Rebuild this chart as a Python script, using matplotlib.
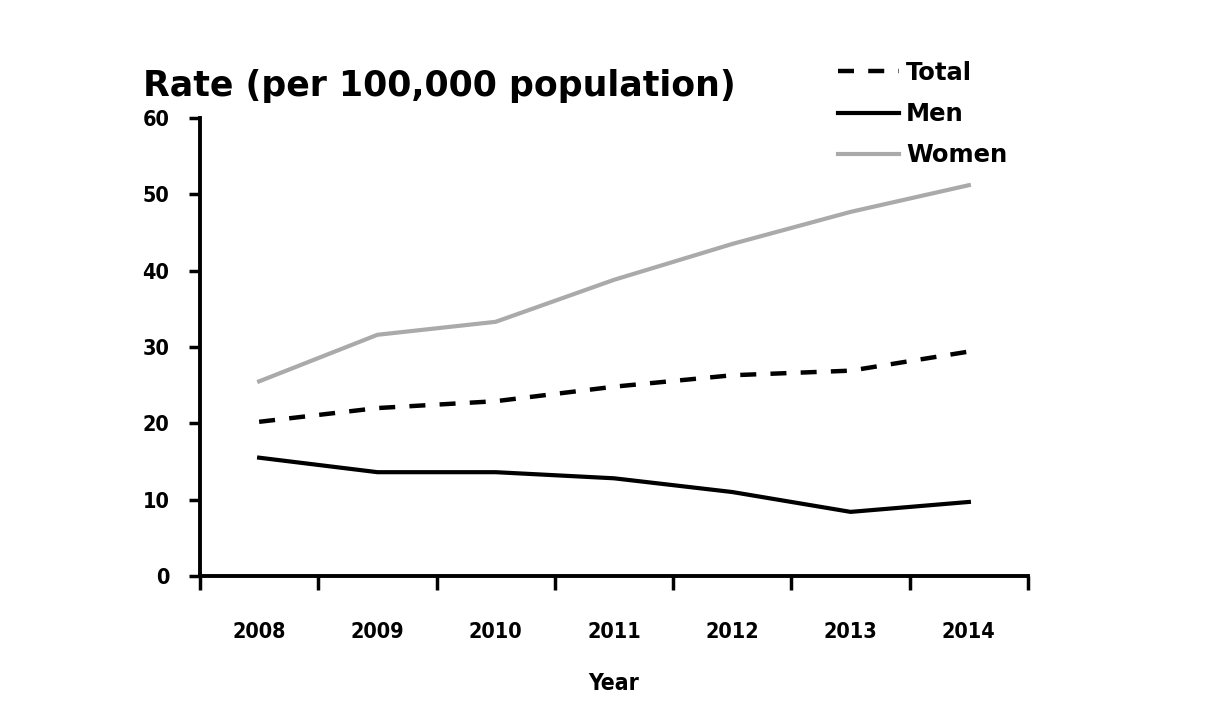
import matplotlib
matplotlib.use("Agg")
import matplotlib.pyplot as plt
import numpy as np

years = ["2008", "2009", "2010", "2011", "2012", "2013", "2014"]
total = [20.2, 22.0, 22.9, 24.8, 26.3, 26.9, 29.4]
men = [15.5, 13.6, 13.6, 12.8, 11.0, 8.4, 9.7]
women = [25.5, 31.6, 33.3, 38.8, 43.5, 47.7, 51.2]
yticks = [0, 10, 20, 30, 40, 50, 60]

plt.rcParams['font.family'] = ['DejaVu Sans']

fig = plt.figure(figsize=(12.27, 7.19), dpi=100)
ax = fig.add_axes([200/1227, 1-576/719, 828/1227, 458/719])

x = np.arange(len(years))
ax.plot(x, total, color='black', lw=3.2, ls=(0, (3.6, 3.2)), label='Total')
ax.plot(x, men, color='black', lw=3.0, label='Men')
ax.plot(x, women, color='#aaaaaa', lw=3.0, label='Women')

ax.set_xlim(-0.5, len(years) - 0.5)
ax.set_ylim(0, 60)
ax.set_yticks(yticks)
ax.set_yticklabels([str(v) for v in yticks], fontsize=15.5, fontweight='bold', fontstretch='condensed')
ax.set_xticks(x)
ax.set_xticklabels(years, fontsize=15.5, fontweight='bold', fontstretch='condensed')
ax.set_xticks(np.arange(-0.5, len(years)), minor=True)
ax.tick_params(axis='x', which='major', length=0, pad=33)
ax.tick_params(axis='x', which='minor', length=10, width=2.5, direction='out')
ax.tick_params(axis='y', length=8, width=2.5, direction='out', pad=14)

for s in ['top', 'right']:
    ax.spines[s].set_visible(False)
for s in ['left', 'bottom']:
    ax.spines[s].set_linewidth(2.8)

ax.set_xlabel('Year', fontsize=16.5, fontweight='bold', fontstretch='condensed', labelpad=22)

fig.text(143/1227, 1-96/719, 'Rate (per 100,000 population)', fontsize=25, fontweight='semibold', ha='left', va='baseline')

leg = ax.legend(loc='upper left', bbox_to_anchor=(838/1227, 1-61/719), bbox_transform=fig.transFigure,
                frameon=False, prop={'weight': 'bold', 'size': 17.5},
                handlelength=2.5, handletextpad=0.3, labelspacing=0.7, borderpad=0, borderaxespad=0)

fig.savefig('out.png', dpi=100)
